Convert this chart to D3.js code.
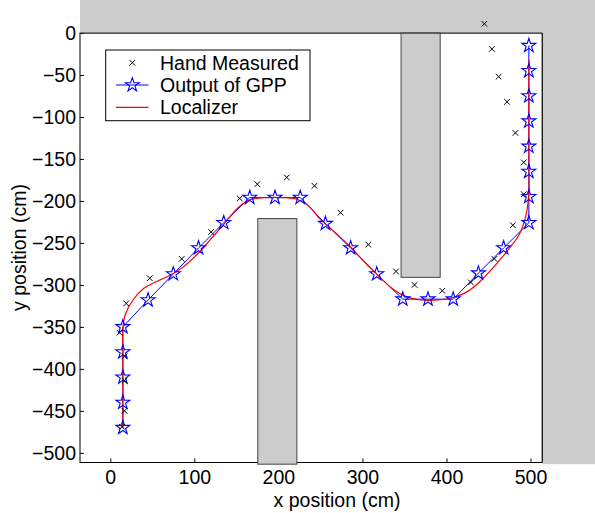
<!DOCTYPE html>
<html lang="en">
<head>
<meta charset="utf-8">
<title>Localizer path</title>
<script src="https://d3js.org/d3.v7.min.js"></script>
<style>
  body { margin: 0; background: #fff; }
  svg { display: block; font-family: "Liberation Sans", Arial, sans-serif; }
</style>
</head>
<body>
<svg id="chart" width="595" height="513"></svg>
<script>
// hand measured points (cm)
const handX = [14, 17, 17, 17, 11, 19, 47, 85, 120, 154, 175, 210, 243, 274, 307, 340, 362, 395, 429, 457, 479, 492, 492, 482, 472, 462, 454, 445];
const handY = [-469, -450, -414, -385, -357, -322, -292, -269, -237, -197, -180, -172, -182, -214, -252, -284, -300, -307, -297, -269, -229, -192, -154, -119, -82, -52, -19, 11];

// output of GPP (stars)
const gppX = [15, 15, 15, 15, 15, 45, 75, 105, 135, 166, 196, 226, 256, 286, 317, 348, 378, 408, 438, 468, 498, 498, 498, 498, 498, 498, 498, 498];
const gppY = [-470, -440, -410, -380, -350, -318, -287, -256, -226, -196, -196, -196, -227, -256, -287, -317, -317, -317, -286, -256, -226, -195, -165, -135, -105, -75, -45, -15];

// localizer track
const locX = [15, 15, 15, 15, 15, 18, 27, 40, 55, 70, 85, 105, 120, 135, 150, 165, 185, 205, 222, 235, 250, 270, 285, 300, 317, 335, 352, 370, 390, 408, 425, 440, 455, 472, 487, 495, 498, 498, 498, 498, 498];
const locY = [-470, -440, -410, -380, -352, -335, -318, -304, -296, -289, -280, -262, -245, -228, -210, -199, -196, -196, -198, -205, -222, -240, -254, -270, -287, -304, -314, -318, -318, -315, -308, -296, -280, -260, -239, -215, -190, -150, -100, -60, -32];

// obstacles [x0, x1, y0, y1]
const obstacles = [[175.5, 222, -513.5, -221], [346, 392.5, -291, 0]];

const xTicks = [0, 100, 200, 300, 400, 500];
const yTicks = [0, -50, -100, -150, -200, -250, -300, -350, -400, -450, -500];

const svg = d3.select("#chart");
const W = 595, H = 513;
const x = d3.scaleLinear().domain([-36, 514]).range([80, 542.3]);
const y = d3.scaleLinear().domain([-511.5, 0]).range([462.5, 33]);
const grey = "#cccccc";
const fs = "19.5px";

// frame (bottom/left under obstacles)
svg.append("rect")
  .attr("x", x(-36)).attr("y", y(0))
  .attr("width", x(514) - x(-36)).attr("height", y(-511.5) - y(0))
  .attr("fill", "#fff").attr("stroke", "#000").attr("stroke-width", 1);

// axes ticks + labels
const gx = svg.append("g").attr("transform", "translate(0," + y(-511.5) + ")")
  .call(d3.axisBottom(x).tickValues(xTicks).tickSizeInner(-4).tickSizeOuter(0).tickPadding(8));
const gy = svg.append("g").attr("transform", "translate(" + x(-36) + ",0)")
  .call(d3.axisLeft(y).tickValues(yTicks).tickSizeInner(-4).tickSizeOuter(0).tickPadding(4)
    .tickFormat(d => d < 0 ? "\u2212" + Math.abs(d) : d));
[gx, gy].forEach(g => {
  g.select(".domain").remove();
  g.selectAll("line").attr("stroke", "#000");
  g.selectAll("text").attr("fill", "#000").style("font-size", fs)
    .style("font-family", "'Liberation Sans', Arial, sans-serif");
});

// grey walls outside the box
svg.append("rect").attr("x", x(-36)).attr("y", 0)
  .attr("width", W - x(-36)).attr("height", y(0)).attr("fill", grey);
svg.append("rect").attr("x", x(514)).attr("y", 0)
  .attr("width", W - x(514)).attr("height", y(-513.5)).attr("fill", grey);

svg.append("g").selectAll("rect").data(obstacles).join("rect")
  .attr("x", d => x(d[0])).attr("y", d => y(d[3]))
  .attr("width", d => x(d[1]) - x(d[0])).attr("height", d => y(d[2]) - y(d[3]))
  .attr("fill", grey).attr("stroke", "#444").attr("stroke-width", 1);

// top & right frame lines above walls
svg.append("line").attr("x1", x(-36)).attr("x2", x(514)).attr("y1", y(0)).attr("y2", y(0))
  .attr("stroke", "#333");
svg.append("line").attr("x1", x(514)).attr("x2", x(514)).attr("y1", y(0)).attr("y2", y(-511.5))
  .attr("stroke", "#000");

// data
const gpp = gppX.map((v, i) => [v, gppY[i]]);
const hand = handX.map((v, i) => [v, handY[i]]);
const loc = locX.map((v, i) => [v, locY[i]]);

svg.append("path").datum(gpp)
  .attr("d", d3.line().x(d => x(d[0])).y(d => y(d[1])))
  .attr("fill", "none").attr("stroke", "#0000ff").attr("stroke-width", 1);

svg.append("path").datum(loc)
  .attr("d", d3.line().x(d => x(d[0])).y(d => y(d[1])).curve(d3.curveCatmullRom.alpha(0.5)))
  .attr("fill", "none").attr("stroke", "#ff0000").attr("stroke-width", 1.2);

const star = d3.symbol().type(d3.symbolStar).size(60);
svg.append("g").selectAll("path").data(gpp).join("path")
  .attr("transform", d => "translate(" + x(d[0]) + "," + y(d[1]) + ")")
  .attr("d", star).attr("fill", "none").attr("stroke", "#0000ff").attr("stroke-width", 1.1);

const cross = s => "M" + -s + "," + -s + "L" + s + "," + s + "M" + -s + "," + s + "L" + s + "," + -s;
svg.append("g").selectAll("path").data(hand).join("path")
  .attr("transform", d => "translate(" + x(d[0]) + "," + y(d[1]) + ")")
  .attr("d", cross(2.8)).attr("stroke", "#000").attr("stroke-width", 1);

// legend
const lg = svg.append("g");
lg.append("rect").attr("x", 105.7).attr("y", 50).attr("width", 204.3).attr("height", 70.7)
  .attr("fill", "#fff").attr("stroke", "#000").attr("stroke-width", 1);
const rows = [62.7, 85, 107.3];
lg.append("path").attr("transform", "translate(132.3," + rows[0] + ")").attr("d", cross(2.8)).attr("stroke", "#000");
lg.append("line").attr("x1", 116).attr("x2", 148.5).attr("y1", rows[1]).attr("y2", rows[1]).attr("stroke", "#0000ff");
lg.append("path").attr("transform", "translate(132.3," + rows[1] + ")").attr("d", star)
  .attr("fill", "none").attr("stroke", "#0000ff").attr("stroke-width", 1.1);
lg.append("line").attr("x1", 116).attr("x2", 148.5).attr("y1", rows[2]).attr("y2", rows[2]).attr("stroke", "#ff0000").attr("stroke-width", 1.2);
["Hand Measured", "Output of GPP", "Localizer"].forEach((t, i) => {
  lg.append("text").attr("x", 160).attr("y", rows[i]).attr("dy", "0.36em")
    .style("font-size", fs).text(t);
});

// axis titles
svg.append("text").attr("x", 337).attr("y", 506.5).attr("text-anchor", "middle")
  .style("font-size", fs).text("x position (cm)");
svg.append("text").attr("transform", "translate(26,247.5) rotate(-90)").attr("text-anchor", "middle")
  .style("font-size", fs).text("y position (cm)");
</script>
</body>
</html>
